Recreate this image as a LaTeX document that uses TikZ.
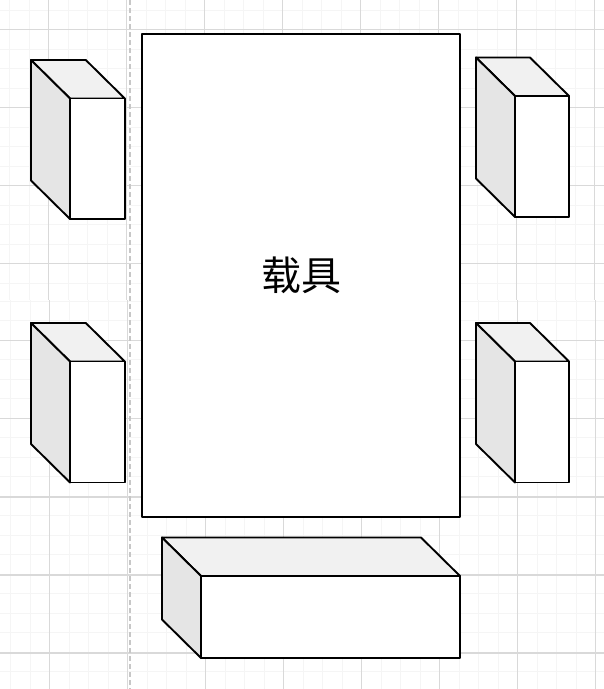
\documentclass[tikz,border=0pt]{standalone}
\usepackage{fontspec}
\newfontfamily\cjk{Noto Sans CJK SC}
\tikzset{
  minorgrid/.style={draw=black!4,line width=1pt},
  majorgrid/.style={draw=black!15,line width=1pt},
  guide/.style={draw=black!22,line width=1.3pt,dash pattern=on 5pt off 3pt},
  edge/.style={draw=black,line width=1.9pt,line join=round},
  topface/.style={edge,fill=black!5.5},
  sideface/.style={edge,fill=black!10},
  frontface/.style={edge,fill=white},
  carrier/.style={edge,fill=white}
}
% #1 back-left x, #2 back-top y, #3 front-left x, #4 front-top y, #5 front-right x, #6 front-bottom y
\newcommand{\boxthree}[6]{%
  \pgfmathsetmacro{\bx}{#5-(#3-#1)}%
  \pgfmathsetmacro{\by}{#6-(#4-#2)}%
  \draw[topface] (#1,#2) -- (\bx,#2) -- (#5,#4) -- (#3,#4) -- cycle;
  \draw[sideface] (#1,#2) -- (#3,#4) -- (#3,#6) -- (#1,\by) -- cycle;
  \draw[frontface] (#3,#4) rectangle (#5,#6);
}
\begin{document}
\begin{tikzpicture}[x=1pt,y=-1pt]
\useasboundingbox (0,0) rectangle (604,689);
\fill[white] (0,0) rectangle (604,689);
\begin{scope}
\clip (0,0) rectangle (604,300);
\foreach \k in {0,...,31} {
  \draw[minorgrid] ({9.5+19.5*\k},0) -- ({9.5+19.5*\k},300);
  \draw[minorgrid] (0,{10+19.5*\k}) -- (604,{10+19.5*\k});
}
\foreach \k in {0,...,7} {
  \draw[majorgrid] ({48.5+78*\k},0) -- ({48.5+78*\k},300);
}
\foreach \k in {0,...,3} {
  \draw[majorgrid] (0,{29.5+78*\k}) -- (604,{29.5+78*\k});
}
\end{scope}
\begin{scope}
\clip (0,300) rectangle (604,689);
\foreach \k in {0,...,31} {
  \draw[minorgrid] ({10.6+19.5*\k},300) -- ({10.6+19.5*\k},689);
  \draw[minorgrid] (0,{301.3+19.5*\k}) -- (604,{301.3+19.5*\k});
}
\foreach \k in {0,...,7} {
  \draw[majorgrid] ({49.6+78*\k},300) -- ({49.6+78*\k},689);
}
\foreach \k in {0,...,1} {
  \draw[majorgrid] (0,{340.5+78*\k}) -- (604,{340.5+78*\k});
}
\foreach \k in {0,...,2} {
  \draw[majorgrid,line width=1.5pt] (0,{497+78*\k}) -- (604,{497+78*\k});
}
\end{scope}
\draw[guide] (130,0) -- (130,689);
\boxthree{31}{60}{70}{98.5}{124.8}{219}
\boxthree{476}{57.5}{515}{96}{569}{217}
\boxthree{31}{323}{70}{361.5}{124.8}{482.5}
\boxthree{476}{323}{515}{361.5}{569}{482.5}
\boxthree{162}{537.5}{201}{576}{460}{658}
\node[carrier,minimum width=318pt,minimum height=483pt,inner sep=0pt,outer sep=0pt,anchor=north west,font=\cjk\fontsize{40}{40}\selectfont] (vehicle) at (142,34) {载具};
\end{tikzpicture}
\end{document}
